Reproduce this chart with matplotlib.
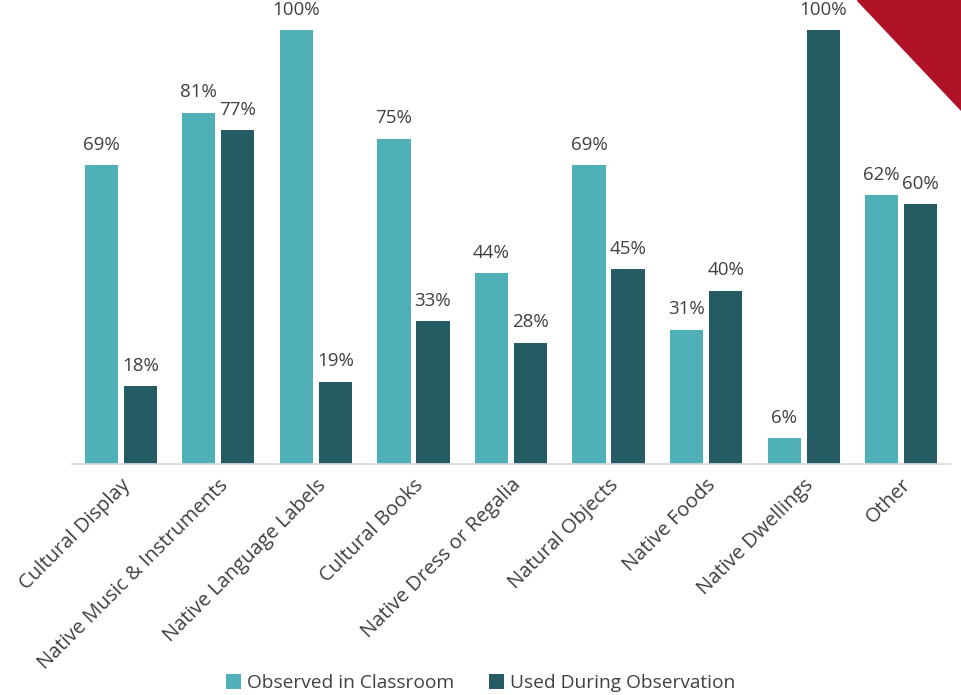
import matplotlib
matplotlib.use("Agg")
import matplotlib.pyplot as plt
import numpy as np
from matplotlib.patches import Polygon

categories = ["Cultural Display", "Native Music & Instruments", "Native Language Labels",
              "Cultural Books", "Native Dress or Regalia", "Natural Objects",
              "Native Foods", "Native Dwellings", "Other"]
observed = [69, 81, 100, 75, 44, 69, 31, 6, 62]
used = [18, 77, 19, 33, 28, 45, 40, 100, 60]
series_names = ["Observed in Classroom", "Used During Observation"]

c_obs = "#4FB0B7"
c_used = "#255C63"
text_c = "#404040"

plt.rcParams['font.family'] = ['Open Sans', 'DejaVu Sans']

fig = plt.figure(figsize=(9.61, 6.95), dpi=100)
ax = fig.add_axes([72 / 961, 1 - 464 / 695, 878 / 961, 464 / 695])

x = np.arange(len(categories))
w = 0.34
off = 0.2
b1 = ax.bar(x - off, observed, w, color=c_obs, label=series_names[0])
b2 = ax.bar(x + off, used, w, color=c_used, label=series_names[1])

for bars, vals in ((b1, observed), (b2, used)):
    for r, v in zip(bars, vals):
        ax.text(r.get_x() + r.get_width() / 2, v + 2.6, f"{v}%", ha="center", va="bottom",
                fontsize=13.5, color=text_c)

ax.set_xlim(-0.5, len(categories) - 0.5)
ax.set_ylim(0, 107)
for s in ("top", "right", "left"):
    ax.spines[s].set_visible(False)
ax.spines["bottom"].set_color("#D9D9D9")
ax.spines["bottom"].set_linewidth(1.2)
ax.set_yticks([])
ax.set_xticks(x)
ax.set_xticklabels(categories, rotation=45, ha="right", rotation_mode="anchor",
                   fontsize=14.5, color=text_c)
ax.tick_params(axis="x", length=0, pad=8)

# legend along the bottom
fig.legend(handles=[b1, b2], labels=series_names, loc="center", bbox_to_anchor=(0.5, 1 - 683 / 695),
           ncol=2, frameon=False, fontsize=13.8, handlelength=0.8, handleheight=0.8,
           handletextpad=0.3, columnspacing=1.8, labelcolor=text_c)

# red corner accent
tri = Polygon([[857 / 961, 1], [1, 1], [1, 1 - 110 / 695]], closed=True,
              transform=fig.transFigure, color="#B01228", zorder=10)
fig.patches.append(tri)

fig.savefig("out.png", dpi=100)
